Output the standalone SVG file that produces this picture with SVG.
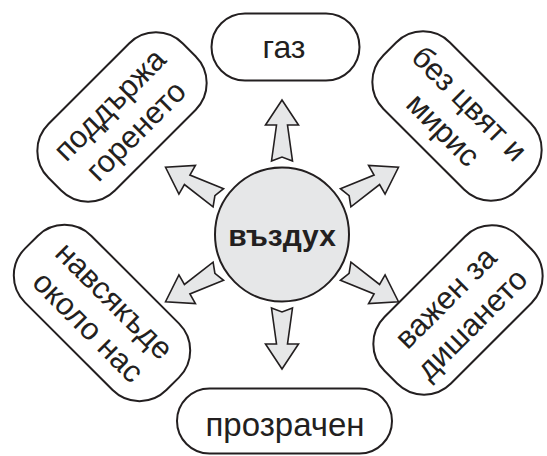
<svg xmlns="http://www.w3.org/2000/svg" width="547" height="456" viewBox="0 0 547 456">
<style>
.box{fill:#ffffff;stroke:#231f20;stroke-width:2}
.lbl{font-family:"Liberation Sans",Arial,sans-serif;font-size:31px;fill:#231f20;text-anchor:middle}
.hub{fill:#e6e7e8;stroke:#231f20;stroke-width:2}
.hubt{font-family:"Liberation Sans",Arial,sans-serif;font-size:30px;font-weight:bold;fill:#231f20;text-anchor:middle}
.arr{fill:#e6e7e8;stroke:#231f20;stroke-width:1.6;stroke-linejoin:miter}
</style>
<defs>
<path id="arrow" d="M0,-10.5 L36,-5.5 L36,-16.5 L61,0 L36,16.5 L36,5.5 L0,10.5 L4,0 Z"/>
</defs>
<rect width="547" height="456" fill="#ffffff"/>
<g id="connectors">
<use href="#arrow" class="arr" transform="translate(282,234.5) rotate(-90) translate(73.5,0)"/>
<use href="#arrow" class="arr" transform="translate(282,234.5) rotate(-30) translate(73.5,0)"/>
<use href="#arrow" class="arr" transform="translate(282,234.5) rotate(30) translate(73.5,0)"/>
<use href="#arrow" class="arr" transform="translate(282,234.5) rotate(90) translate(73.5,0)"/>
<use href="#arrow" class="arr" transform="translate(282,234.5) rotate(150) translate(73.5,0)"/>
<use href="#arrow" class="arr" transform="translate(282,234.5) rotate(-150) translate(73.5,0)"/>
</g>
<g id="hub">
<circle class="hub" cx="282" cy="234.5" r="67"/>
<text class="hubt" x="282" y="246">въздух</text>
</g>
<g id="n-gas">
<rect class="box" x="211.5" y="13.5" width="148" height="67" rx="33.5"/>
<text class="lbl" x="284" y="58" style="font-size:32px">газ</text>
</g>
<g id="n-transparent">
<rect class="box" x="177" y="388.5" width="215" height="65" rx="32.5"/>
<text class="lbl" x="285" y="436" style="font-size:33px">прозрачен</text>
</g>
<g id="n-burning" transform="translate(122,117) rotate(-45)">
<rect class="box" x="-95" y="-47" width="190" height="94" rx="38"/>
<text class="lbl" x="0" y="-7">поддържа</text>
<text class="lbl" x="0" y="30">горенето</text>
</g>
<g id="n-colorless" transform="translate(457,116) rotate(45)">
<rect class="box" x="-95" y="-47" width="190" height="94" rx="38"/>
<text class="lbl" x="0" y="-7">без цвят и</text>
<text class="lbl" x="0" y="30">мирис</text>
</g>
<g id="n-everywhere" transform="translate(102,313) rotate(45)">
<rect class="box" x="-100" y="-47" width="200" height="94" rx="38"/>
<text class="lbl" x="0" y="-7">навсякъде</text>
<text class="lbl" x="0" y="30">около нас</text>
</g>
<g id="n-breathing" transform="translate(458,310) rotate(-45)">
<rect class="box" x="-95" y="-47" width="190" height="94" rx="38"/>
<text class="lbl" x="0" y="-7">важен за</text>
<text class="lbl" x="0" y="30">дишането</text>
</g>
</svg>
